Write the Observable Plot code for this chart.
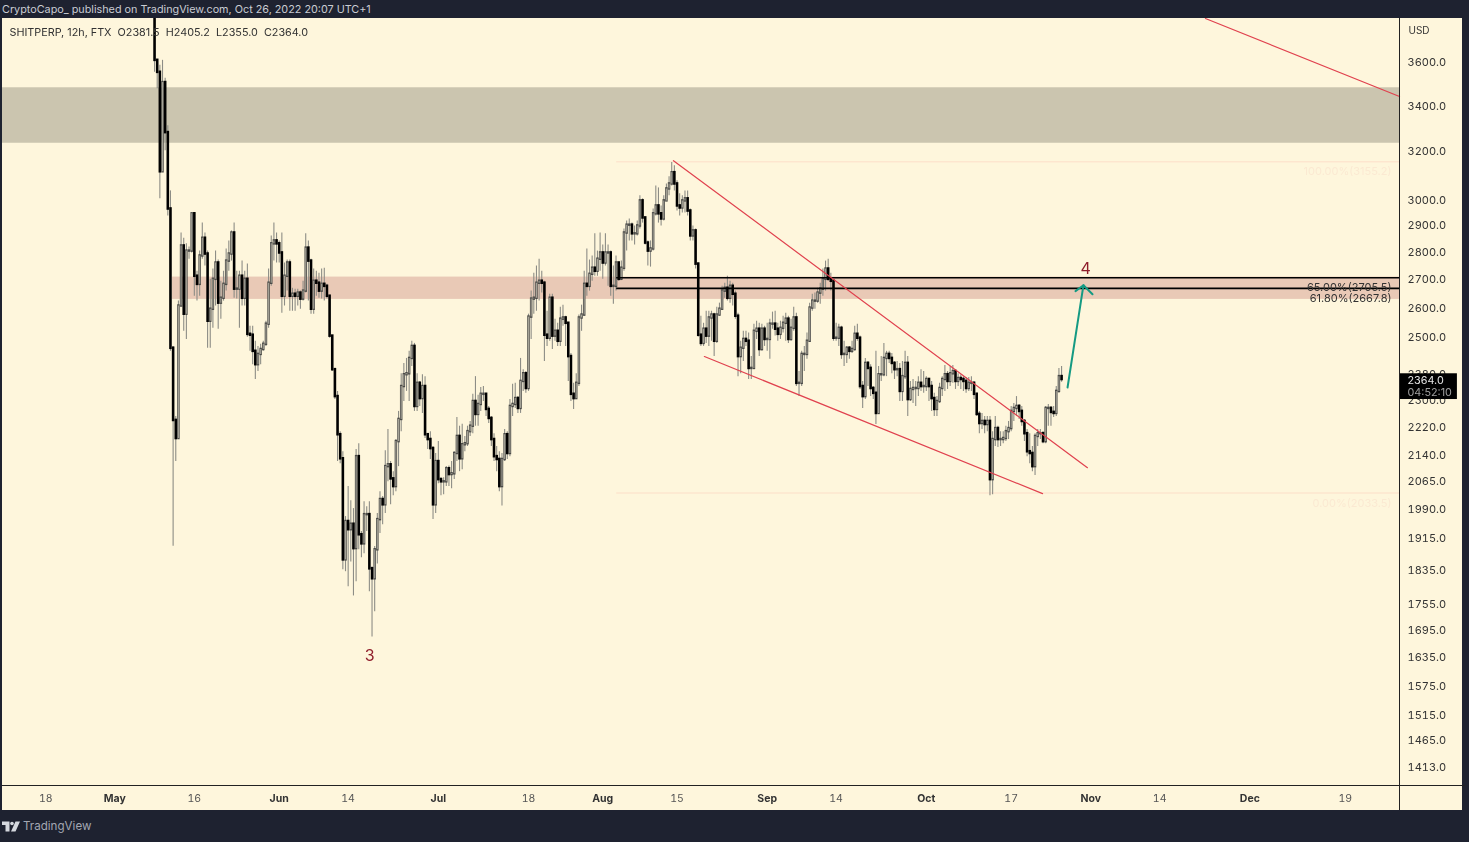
<!DOCTYPE html>
<html><head><meta charset="utf-8">
<script src="https://cdn.jsdelivr.net/npm/d3@7"></script>
<script src="https://cdn.jsdelivr.net/npm/@observablehq/plot@0.6"></script>
<style>
html,body{margin:0;padding:0;background:#1e2230;width:1469px;height:842px;overflow:hidden;font-family:Inter,"Noto Sans",sans-serif}
#panel{position:absolute;left:2px;top:18px;width:1459.5px;height:792px;background:#fef6dc}
#chart{position:absolute;left:0;top:0}
#chart svg{filter:blur(0.3px)}
#head{position:absolute;left:2px;top:1.5px;font-size:10.8px;line-height:15px;color:#c9ccd3;white-space:pre}
#foot{position:absolute;left:2px;top:818px;height:16px;display:flex;align-items:center;gap:3px;font-size:11.6px;color:#a3a7b2}
</style></head><body>
<div id="panel"></div><div id="chart"></div>
<div id="head">CryptoCapo_ published on TradingView.com, Oct 26, 2022 20:07 UTC+1</div>
<div id="foot"><svg width="18" height="11" viewBox="0 0 36 22"><path fill="#d5d8de" d="M0 1h15v20H7V8H0zM27 1h9l-9 20h-9z"/><circle cx="20" cy="5" r="3.6" fill="#d5d8de"/></svg><span>TradingView</span></div>
<script>
const legendText = "SHITPERP, 12h, FTX  O2381.5  H2405.2  L2355.0  C2364.0";
const firstBar = new Date(Date.UTC(2022,4,8,9));
const firstOpen = 3900;
const closes = [
3610,3553,3114,3505,3280,2964,2464,2239,2186,2606,
2822,2578,2803,2803,2945,2711,2682,2785,2851,2792,
2554,2595,2700,2759,2616,2633,2682,2766,2792,2871,
2665,2665,2711,2633,2700,2510,2507,2454,2411,2444,
2460,2477,2544,2686,2830,2841,2830,2796,2640,2711,
2759,2640,2647,2640,2651,2630,2658,2814,2766,2595,
2693,2686,2658,2682,2675,2640,2504,2395,2311,2197,
2128,1861,1958,1937,1951,1889,2134,1924,1901,1976,
1976,1839,1815,1886,1963,2016,2002,2106,2111,2072,
2051,2177,2242,2342,2379,2382,2431,2470,2281,2352,
2305,2342,2197,2183,2157,2002,2120,2070,2064,2064,
2100,2084,2086,2143,2192,2128,2168,2171,2206,2222,
2296,2257,2287,2318,2318,2272,2245,2183,2134,2126,
2051,2126,2197,2143,2281,2287,2305,2275,2358,2382,
2336,2568,2630,2633,2686,2693,2686,2507,2497,2633,
2504,2520,2487,2561,2565,2547,2437,2318,2305,2352,
2565,2575,2682,2675,2718,2740,2729,2773,2796,2759,
2796,2796,2675,2675,2759,2700,2740,2871,2901,2901,
2868,2868,2898,2996,2929,2833,2803,2811,2945,2976,
2945,2925,2996,3044,3064,3110,3064,2976,2968,2996,
3004,2956,2860,2879,2755,2507,2480,2527,2504,2565,
2575,2487,2575,2595,2658,2668,2633,2675,2647,2571,
2437,2464,2493,2487,2399,2399,2520,2527,2460,2527,
2493,2493,2544,2544,2527,2510,2530,2547,2561,2493,
2530,2565,2352,2352,2444,2444,2487,2599,2623,2623,
2651,2665,2700,2737,2700,2693,2497,2497,2530,2444,
2444,2464,2454,2460,2510,2497,2342,2311,2415,2399,
2336,2321,2260,2379,2379,2431,2444,2431,2415,2395,
2395,2327,2373,2415,2302,2333,2336,2336,2352,2342,
2342,2364,2342,2305,2272,2296,2336,2364,2379,2358,
2382,2389,2358,2367,2364,2358,2336,2352,2352,2318,
2257,2230,2236,2227,2236,2070,2183,2215,2183,2183,
2186,2206,2215,2266,2275,2281,2266,2236,2200,2148,
2143,2106,2192,2200,2200,2177,2275,2275,2263,2260,
2327,2373,2364];
const highs = [
3950,3600,3586,3610,3525,3310,3036,2470,2251,2623,
2871,2851,2830,2818,2945,2945,2729,2803,2909,2871,
2803,2700,2737,2803,2770,2693,2729,2811,2841,2879,
2909,2729,2729,2766,2729,2755,2537,2537,2487,2470,
2477,2487,2554,2737,2860,2909,2871,2841,2871,2759,
2770,2770,2668,2665,2665,2658,2693,2868,2841,2773,
2737,2729,2722,2737,2740,2682,2640,2504,2395,2327,
2206,2148,1971,2051,2013,1992,2154,2171,1932,2010,
1997,2010,1844,1894,1979,2037,2024,2151,2212,2120,
2092,2183,2266,2382,2415,2431,2454,2487,2480,2382,
2358,2379,2373,2192,2206,2163,2143,2177,2075,2075,
2106,2108,2120,2148,2248,2222,2228,2192,2222,2236,
2318,2373,2315,2339,2342,2318,2281,2251,2200,2163,
2148,2143,2212,2206,2302,2349,2352,2311,2431,2395,
2389,2578,2658,2722,2748,2773,2729,2693,2588,2647,
2647,2561,2547,2602,2609,2571,2547,2447,2352,2382,
2575,2609,2729,2811,2770,2785,2868,2803,2871,2826,
2868,2826,2803,2748,2785,2759,2766,2886,2917,2925,
2909,2898,2917,3016,3004,2929,2841,2841,2964,3056,
3048,2976,3016,3064,3093,3152,3139,3077,3024,3016,
3036,3036,2964,2898,2886,2759,2571,2547,2588,2588,
2588,2581,2602,2616,2675,2686,2711,2693,2686,2658,
2581,2487,2520,2520,2514,2437,2544,2554,2547,2544,
2537,2547,2561,2585,2588,2547,2554,2571,2581,2571,
2561,2602,2581,2389,2454,2470,2514,2616,2647,2651,
2668,2686,2737,2766,2773,2722,2693,2547,2544,2537,
2487,2470,2470,2487,2537,2544,2504,2358,2431,2421,
2411,2342,2454,2405,2437,2480,2454,2454,2447,2421,
2421,2415,2421,2454,2437,2358,2364,2358,2373,2395,
2389,2373,2367,2358,2321,2311,2352,2373,2408,2389,
2405,2408,2395,2382,2379,2373,2370,2370,2373,2358,
2321,2266,2260,2251,2251,2251,2206,2251,2222,2206,
2206,2222,2236,2281,2290,2311,2287,2281,2242,2212,
2200,2163,2200,2212,2212,2206,2281,2287,2281,2281,
2342,2399,2405];
const lows = [
3553,3477,3004,3114,3202,2937,2454,1895,2120,2186,
2606,2520,2493,2773,2796,2640,2623,2640,2773,2748,
2464,2464,2530,2606,2527,2561,2623,2658,2729,2766,
2633,2630,2530,2606,2606,2500,2454,2411,2364,2389,
2411,2454,2470,2530,2675,2766,2759,2759,2581,2606,
2658,2588,2588,2588,2606,2595,2623,2651,2623,2578,
2578,2640,2633,2630,2623,2630,2497,2389,2302,2120,
2114,1837,1832,1796,1856,1774,1808,1886,1866,1876,
1932,1784,1680,1737,1851,1927,1950,1979,2064,2002,
2026,2037,2106,2206,2296,2327,2296,2405,2266,2266,
2281,2260,2186,2154,2126,1963,1979,2059,2026,2029,
2051,2051,2045,2070,2120,2092,2097,2148,2163,2192,
2200,2222,2222,2266,2296,2251,2230,2163,2120,2092,
2037,1999,2120,2126,2134,2251,2275,2260,2260,2327,
2321,2327,2493,2578,2588,2623,2651,2421,2470,2487,
2460,2487,2470,2470,2537,2470,2358,2296,2272,2311,
2342,2520,2571,2640,2658,2693,2711,2711,2729,2700,
2748,2675,2640,2612,2658,2693,2700,2729,2803,2841,
2841,2826,2860,2886,2909,2826,2748,2744,2803,2937,
2909,2898,2917,2996,3016,3056,3036,2956,2937,2948,
2948,2937,2841,2841,2737,2500,2470,2470,2480,2470,
2487,2437,2480,2571,2592,2633,2623,2616,2606,2561,
2373,2382,2421,2470,2364,2364,2421,2493,2437,2454,
2470,2454,2428,2527,2504,2487,2493,2514,2487,2480,
2487,2520,2342,2311,2342,2389,2428,2487,2588,2595,
2616,2612,2640,2658,2693,2658,2487,2487,2470,2428,
2405,2415,2428,2447,2454,2487,2333,2275,2302,2342,
2311,2302,2227,2281,2358,2373,2373,2415,2382,2364,
2373,2296,2296,2364,2251,2296,2290,2281,2311,2327,
2321,2327,2296,2266,2251,2251,2290,2311,2327,2333,
2342,2352,2333,2342,2333,2327,2321,2327,2327,2302,
2251,2200,2212,2200,2206,2026,2029,2163,2160,2163,
2171,2177,2183,2206,2236,2251,2242,2222,2177,2134,
2114,2092,2081,2163,2183,2171,2171,2222,2222,2248,
2251,2321,2355];

const D = (m,d,h=0) => new Date(Date.UTC(2022,m-1,d,h));
const xDomain = [D(4,9,17), D(12,29,2)];
const yDomain = [1379.6, 3816];
const yBottomEdge = 1334.6;
const xRightEdge = D(12,31,24*10+12);
const xTagEdge = D(12,31,24*9);
const priceTicks = [3600,3400,3200,3000,2900,2800,2700,2600,2500,2380,2300,2220,2140,2065,1990,1915,1835,1755,1695,1635,1575,1515,1465,1413];
const dayTicks = [D(4,18),D(5,16),D(6,14),D(7,18),D(8,15),D(9,14),D(10,17),D(11,14),D(12,19)];
const monthTicks = [D(5,1),D(6,1),D(7,1),D(8,1),D(9,1),D(10,1),D(11,1),D(12,1)];

const zones = [
  {x1:xDomain[0], x2:xDomain[1], y1:3234, y2:3481, fill:"#cbc5af"},
  {x1:D(5,11,18), x2:xDomain[1], y1:2629, y2:2708, fill:"#e9c9b6"}
];
const fibStart = D(8,3,12);
const fibBlack = [{p:2705.5,label:"65.00%(2705.5)"},{p:2667.8,label:"61.80%(2667.8)"}];
const fibFaint = [{p:3155.2,label:"100.00%(3155.2)"},{p:2033.5,label:"0.00%(2033.5)"}];
const redLines = [
  [{x:D(8,14,5),y:3160},{x:D(10,31,6),y:2103}],
  [{x:D(8,20,1),y:2437},{x:D(10,22,19),y:2032}],
  [{x:D(11,22,12),y:3816},{x:xDomain[1],y:3441}]
];
const arrowShaft = [{x:D(10,27,12),y:2339},{x:D(10,30,12),y:2679}];
const arrowHead = [{x:D(10,29),y:2658},{x:D(10,30,12),y:2679},{x:D(11,1,5),y:2647}];
const waveLabels = [{x:D(6,17,22),y:1639,t:"3"},{x:D(10,30,22),y:2736,t:"4"}];

const bars = closes.map((c,i)=>({
  t:new Date(+firstBar + i*43200000),
  o:i?closes[i-1]:firstOpen, c, h:highs[i], l:lows[i]
}));
const up = bars.filter(b=>b.c>=b.o), down = bars.filter(b=>b.c<b.o);

const plot = Plot.plot({
  width:1469, height:842, marginLeft:2, marginRight:70, marginTop:18, marginBottom:57,
  style:{background:"transparent", fontFamily:"Inter,'Noto Sans',sans-serif", fontSize:"11px", overflow:"visible"},
  x:{type:"utc", domain:xDomain, label:null},
  y:{type:"log", domain:yDomain, label:null},
  marks:[
    Plot.rect(zones,{x1:"x1",x2:"x2",y1:"y1",y2:"y2",fill:"fill"}),
    Plot.ruleY(fibFaint,{y:"p",x1:fibStart,x2:xDomain[1],stroke:"#fde6cf",strokeWidth:1.5}),
    Plot.ruleX(bars,{x:"t",y1:"l",y2:"h",stroke:"#8d8d86",strokeWidth:1.1,clip:true}),
    Plot.ruleX(up,{x:"t",y1:"o",y2:"c",stroke:"#4a4a47",strokeWidth:2.5,strokeLinecap:"square",clip:true}),
    Plot.ruleX(up,{x:"t",y1:"o",y2:"c",stroke:"#fffbe8",strokeOpacity:0.5,strokeWidth:1.1,clip:true}),
    Plot.ruleX(down,{x:"t",y1:"o",y2:"c",stroke:"#000",strokeWidth:2.6,strokeLinecap:"square",clip:true}),
    Plot.ruleY(fibBlack,{y:"p",x1:fibStart,x2:xDomain[1],stroke:"#000",strokeWidth:1.7}),
    ...redLines.map(l=>Plot.line(l,{x:"x",y:"y",stroke:"#e0414e",strokeWidth:1.2})),
    Plot.line(arrowShaft,{x:"x",y:"y",stroke:"#159a83",strokeWidth:2}),
    Plot.line(arrowHead,{x:"x",y:"y",stroke:"#159a83",strokeWidth:2}),
    Plot.text(waveLabels,{x:"x",y:"y",text:"t",fill:"#8f1d2b",fontSize:16}),
    Plot.text(fibBlack,{y:"p",frameAnchor:"right",dx:-8,dy:10,text:"label",textAnchor:"end",fill:"#333",fontSize:11}),
    Plot.text(fibFaint,{y:"p",frameAnchor:"right",dx:-8,dy:10,text:"label",textAnchor:"end",fill:"#fbe9d2",fontSize:11}),
    Plot.text([legendText],{frameAnchor:"top-left",dx:7,dy:10,textAnchor:"start",fill:"#333",fontSize:10.8,text:d=>d}),
    Plot.text(["USD"],{frameAnchor:"top-right",dx:9,dy:8,textAnchor:"start",fill:"#333",fontSize:10,text:d=>d}),
    Plot.axisY(priceTicks,{anchor:"right",tickSize:0,tickPadding:8,dy:0.5,tickFormat:d=>d.toFixed(1),fill:"#333",fontSize:11,label:null}),
    Plot.axisX(dayTicks,{anchor:"bottom",tickSize:0,tickPadding:9,dx:-0.7,tickFormat:d3.utcFormat("%-d"),fill:"#555",fontSize:10.5,label:null}),
    Plot.axisX(monthTicks,{anchor:"bottom",tickSize:0,tickPadding:9,dx:-0.7,tickFormat:d3.utcFormat("%b"),fill:"#333",fontWeight:"bold",fontSize:10.5,label:null}),
    Plot.rect([{}],{x1:()=>xDomain[1],x2:()=>xTagEdge,y1:()=>2302,y2:()=>2382,fill:"#000"}),
    Plot.text(["2364.0"],{x:xDomain[1],y:2360,dx:8,textAnchor:"start",fill:"#e6e6e6",fontSize:10.8,text:d=>d}),
    Plot.text(["04:52:10"],{x:xDomain[1],y:2325,dx:8,textAnchor:"start",fill:"#a0a0a0",fontSize:10.8,text:d=>d}),
    Plot.ruleX([xDomain[1]],{y1:yBottomEdge,y2:yDomain[1],stroke:"#222",strokeWidth:1}),
    Plot.ruleY([yDomain[0]],{x1:xDomain[0],x2:xRightEdge,stroke:"#222",strokeWidth:1})
  ]
});
document.getElementById("chart").append(plot);
</script>
</body></html>
